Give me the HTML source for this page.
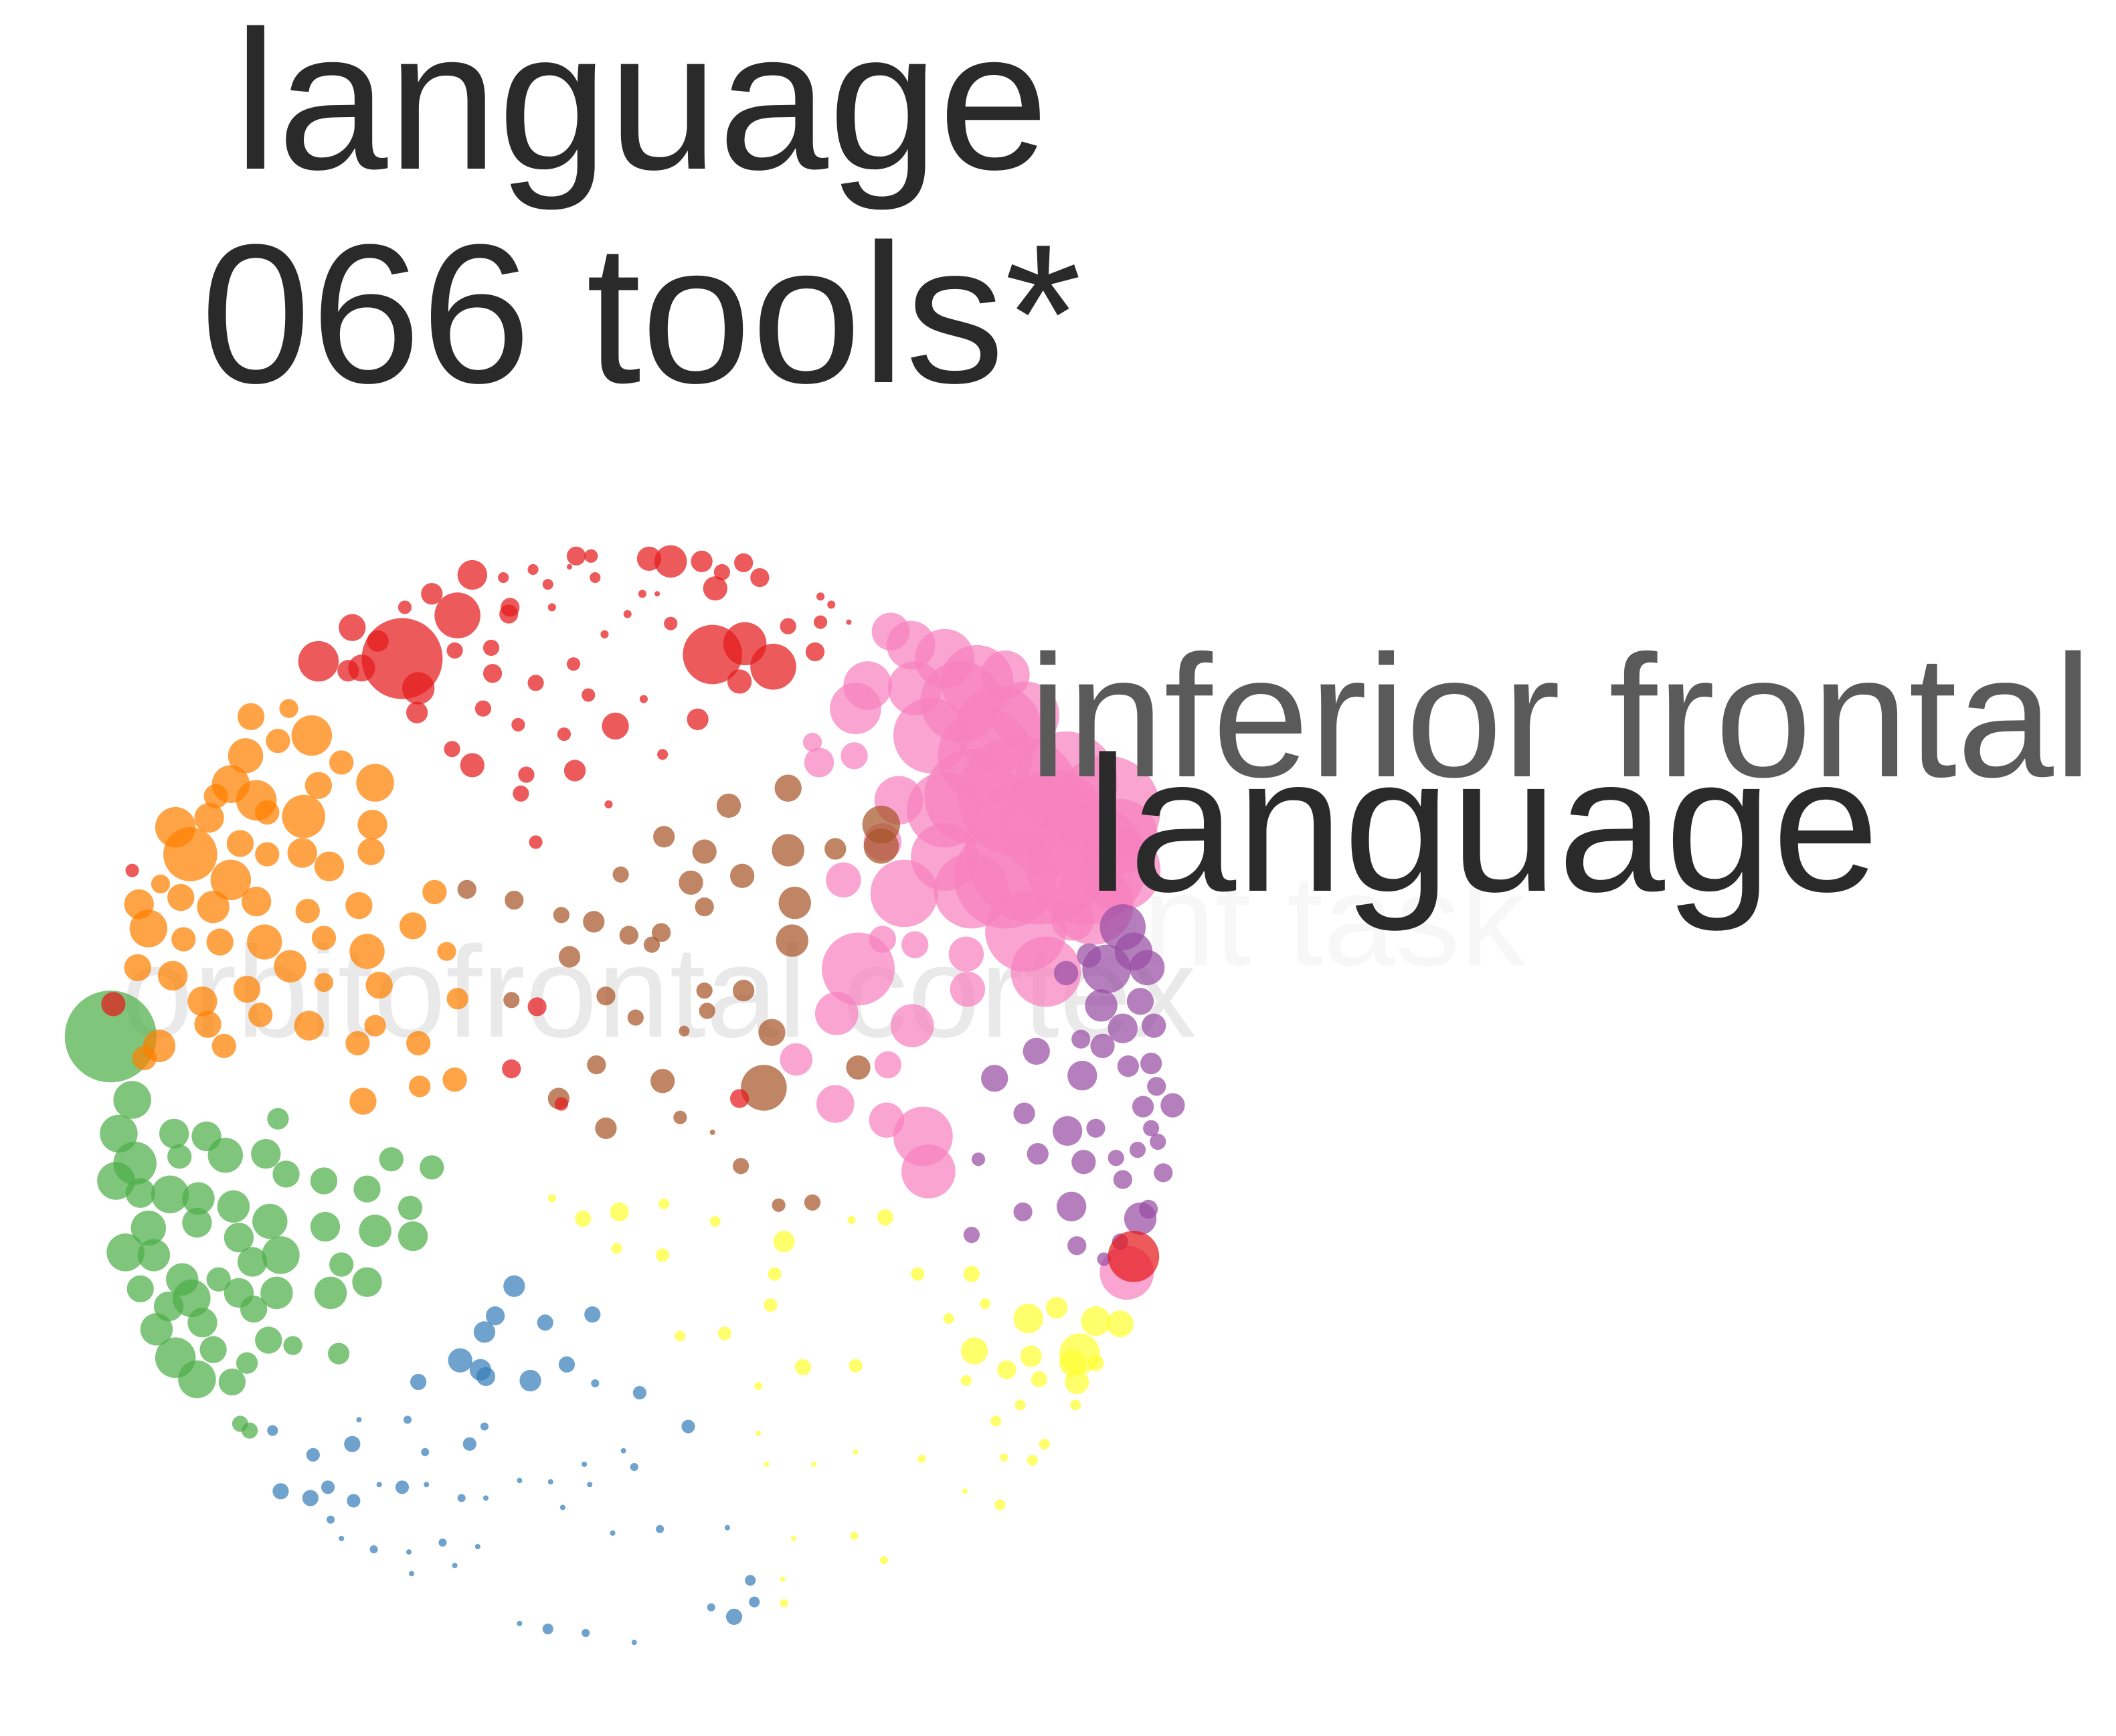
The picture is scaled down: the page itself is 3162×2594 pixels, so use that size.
<!DOCTYPE html>
<html><head><meta charset="utf-8">
<style>
html,body{margin:0;padding:0;background:#fff;}
svg{display:block;font-family:"Liberation Sans",sans-serif;}
</style></head>
<body>
<svg id="chart" width="3162" height="2594" viewBox="0 0 3162 2594" xmlns="http://www.w3.org/2000/svg">
<rect width="3162" height="2594" fill="#fff"/>
<g id="bg-labels">
<text x="2279" y="1442" font-size="194" fill="#f7f7f7" text-anchor="end">ent task</text>
<text x="181" y="1549" font-size="194" fill="#e9e9e9">orbitofrontal cortex</text>
</g>
<g id="marks"></g>
<g>
<text x="1537" y="1160" font-size="260" fill="#5a5a5a">inferior frontal</text>
<text x="1623" y="1331" font-size="288" fill="#2a2a2a">language</text>
<text x="958" y="252" font-size="296" fill="#2a2a2a" text-anchor="middle">language</text>
<text x="958" y="571" font-size="296" fill="#2a2a2a" text-anchor="middle">066 tools*</text>
</g>
</svg>
<script>
// Each bubble: [x, y, size] in chart units
const pinkPts=[[660,468,14],[675,478,18],[700,488,22],[724,505,27],[643,508,18],[678,510,20],[634,525,19],[690,545,28],[730,560,35],[755,590,45],[770,630,55],[700,600,28],[666,593,18],[654,624,14],[625,652,13],[670,662,25],[720,660,28],[760,690,30],[775,720,26],[805,640,45],[820,600,40],[602,550,7],[607,565,11],[633,560,10],[636,718,27],[678,700,10],[716,707,13],[717,733,13],[654,696,10],[620,751,16],[676,760,16],[590,785,12],[658,789,10],[619,818,14],[657,830,13],[684,842,22],[688,868,20],[835,943,20],[795,681,16],[830,645,30],[745,500,18],[760,530,25],[712,520,30],[740,540,32],[720,590,35],[790,580,38],[810,670,30],[745,650,38],[700,635,25],[830,620,28],[780,610,40]];
const purplePts=[[832,687,17],[840,705,14],[820,718,18],[850,717,13],[807,708,9],[790,721,9],[816,745,12],[845,742,10],[832,762,11],[855,760,9],[768,779,10],[801,770,7],[817,775,9],[836,790,8],[853,788,8],[802,797,11],[737,799,10],[857,805,7],[869,819,9],[759,825,8],[791,838,11],[847,820,8],[812,836,7],[853,836,6],[858,846,6],[769,855,8],[803,861,9],[827,858,6],[843,852,6],[862,869,7],[832,874,7],[725,859,5],[794,894,11],[758,898,7],[845,903,12],[851,896,7],[720,915,6],[798,923,7],[818,933,5],[830,920,6]];
const brownPts=[[584,584,10],[540,597,9],[653,611,14],[653,627,13],[619,629,8],[584,630,12],[492,620,8],[522,631,9],[550,649,9],[512,654,9],[589,669,12],[460,648,6],[346,659,7],[381,667,7],[416,678,6],[440,683,8],[466,693,7],[490,691,7],[483,700,6],[522,672,7],[587,697,12],[422,709,8],[379,741,6],[449,738,7],[522,734,6],[551,734,8],[524,749,6],[471,754,6],[507,764,4],[572,765,10],[636,791,9],[442,789,7],[491,801,9],[566,806,17],[414,814,8],[449,836,8],[504,828,5],[528,839,2],[549,864,6],[577,893,5],[602,891,6]];
const yellowPts=[[432,903,6],[459,898,7],[492,892,4],[457,925,4],[491,930,5],[530,905,4],[409,888,3],[581,920,8],[656,902,6],[574,944,5],[571,967,5],[631,904,3],[680,944,5],[720,944,6],[730,966,4],[762,977,11],[783,969,8],[812,979,11],[830,981,10],[800,1003,15],[795,1010,10],[722,1001,10],[746,1015,7],[770,1022,6],[764,1005,8],[798,1024,9],[812,1010,6],[703,977,4],[504,990,4],[537,988,5],[634,1012,5],[595,1013,6],[716,1023,4],[756,1041,4],[738,1053,4],[774,1070,4],[797,1041,4],[765,1082,4],[744,1080,3],[683,1081,3],[634,1076,2],[603,1085,2],[741,1115,4],[715,1105,2],[562,1062,2],[568,1085,2],[633,1138,3],[655,1156,3],[588,1140,2],[581,1188,3],[580,1170,2],[562,1027,3]];
const bluePts=[[381,953,8],[367,975,7],[359,987,8],[404,980,6],[439,974,6],[341,1008,9],[356,1015,8],[360,1020,7],[393,1023,8],[420,1011,6],[310,1024,6],[474,1032,5],[510,1057,5],[441,1025,3],[348,1070,5],[359,1057,3],[302,1052,3],[266,1052,2],[202,1060,4],[261,1070,6],[232,1078,5],[315,1076,3],[462,1075,2],[470,1087,3],[433,1085,2],[298,1102,5],[342,1110,3],[208,1105,6],[230,1110,6],[243,1102,5],[262,1112,5],[281,1100,2],[316,1100,2],[360,1110,2],[385,1097,2],[408,1098,2],[437,1100,2],[245,1126,3],[417,1117,2],[454,1136,2],[489,1133,3],[328,1143,3],[253,1140,2],[277,1148,3],[303,1150,2],[354,1146,2],[539,1132,2],[556,1171,4],[544,1198,6],[559,1187,4],[527,1191,3],[434,1210,3],[406,1207,4],[385,1203,2],[470,1217,2],[305,1166,2],[337,1160,2]];
const greenPts=[[82,768,34],[98,815,14],[88,840,14],[129,840,11],[153,842,11],[100,862,16],[133,857,9],[167,856,13],[197,855,11],[206,829,8],[86,875,14],[104,884,11],[212,870,10],[290,859,9],[320,865,9],[126,885,14],[147,888,12],[240,875,10],[272,881,10],[173,894,12],[200,905,13],[304,895,9],[93,928,14],[110,910,13],[146,906,11],[241,909,11],[177,917,11],[306,916,11],[278,912,12],[114,930,12],[135,948,12],[162,948,9],[208,930,14],[187,935,11],[253,937,9],[104,955,10],[142,962,14],[177,958,11],[205,958,12],[272,950,11],[245,958,12],[125,968,11],[150,980,11],[188,970,10],[116,985,12],[158,1000,10],[199,993,10],[130,1006,15],[146,1022,14],[183,1010,8],[217,997,7],[251,1003,8],[172,1024,10],[178,1055,6],[185,1060,6]];
const orangePts=[[186,531,10],[214,525,7],[231,545,15],[206,549,9],[182,560,13],[171,581,14],[253,565,9],[278,580,14],[236,582,10],[160,590,9],[190,593,15],[225,605,16],[276,611,11],[198,602,9],[130,613,15],[155,606,11],[141,633,20],[178,625,10],[171,652,15],[198,633,9],[224,632,11],[275,631,10],[244,642,11],[119,655,7],[134,665,10],[158,672,12],[190,668,11],[228,675,9],[266,671,10],[103,670,11],[110,688,14],[136,696,9],[163,698,10],[196,698,13],[240,695,9],[272,705,13],[215,716,12],[102,717,10],[128,723,11],[183,733,10],[150,742,11],[193,752,9],[229,760,11],[281,730,10],[240,728,7],[310,773,9],[154,759,10],[166,775,9],[118,775,12],[265,773,9],[322,661,9],[306,686,10],[331,705,7],[339,740,8],[278,760,8],[311,805,8],[337,800,9],[269,816,10],[107,784,9]];
const redPts=[[350,426,11],[378,450,7],[427,412,7],[438,412,5],[481,414,9],[497,416,12],[520,416,8],[551,417,7],[563,428,7],[535,424,6],[530,436,9],[395,422,4],[406,433,4],[441,428,4],[373,428,4],[320,440,8],[300,450,5],[339,456,17],[377,455,7],[298,488,30],[280,475,8],[261,465,10],[236,490,15],[258,497,8],[268,495,10],[310,510,12],[309,528,8],[337,482,6],[364,480,6],[365,499,7],[358,525,6],[397,506,6],[425,492,5],[436,515,5],[384,537,5],[418,544,5],[456,538,10],[335,555,6],[350,567,9],[390,574,6],[386,588,6],[426,571,8],[517,533,8],[491,559,4],[477,518,3],[451,596,3],[397,624,5],[528,485,22],[552,477,16],[573,494,17],[548,505,9],[604,483,7],[584,464,6],[608,461,5],[608,442,3],[629,461,2],[616,448,3],[465,455,3],[448,470,3],[497,462,5],[476,440,3],[487,440,2],[98,645,5],[84,744,9],[398,746,7],[379,792,7],[548,814,7],[416,818,5],[840,931,19],[409,450,3],[422,420,2]];
const groupNames=["pink","purple","brown","yellow","blue","green","orange","red"];
const groupColors=["#f781bf","#984ea3","#a65628","#ffff33","#377eb8","#4daf4a","#ff7f00","#e41a1c"];
const groupData=[pinkPts,purplePts,brownPts,yellowPts,bluePts,greenPts,orangePts,redPts];

const K=3162/1568;
function xScale(v){return v*K;}
function yScale(v){return v*K;}
function rScale(v){return v*K;}
const NS="http://www.w3.org/2000/svg";
const marks=document.getElementById("marks");
groupData.forEach(function(pts,gi){
  const g=document.createElementNS(NS,"g");
  
  
  pts.forEach(function(p){
    const c=document.createElementNS(NS,"circle");
    c.setAttribute("cx",xScale(p[0]));
    c.setAttribute("cy",yScale(p[1]));
    c.setAttribute("r",rScale(p[2]));
    c.setAttribute("fill",groupColors[gi]);
    c.setAttribute("fill-opacity","0.72");
    
    
    g.appendChild(c);
  });
  marks.appendChild(g);
});
</script>
</body></html>
